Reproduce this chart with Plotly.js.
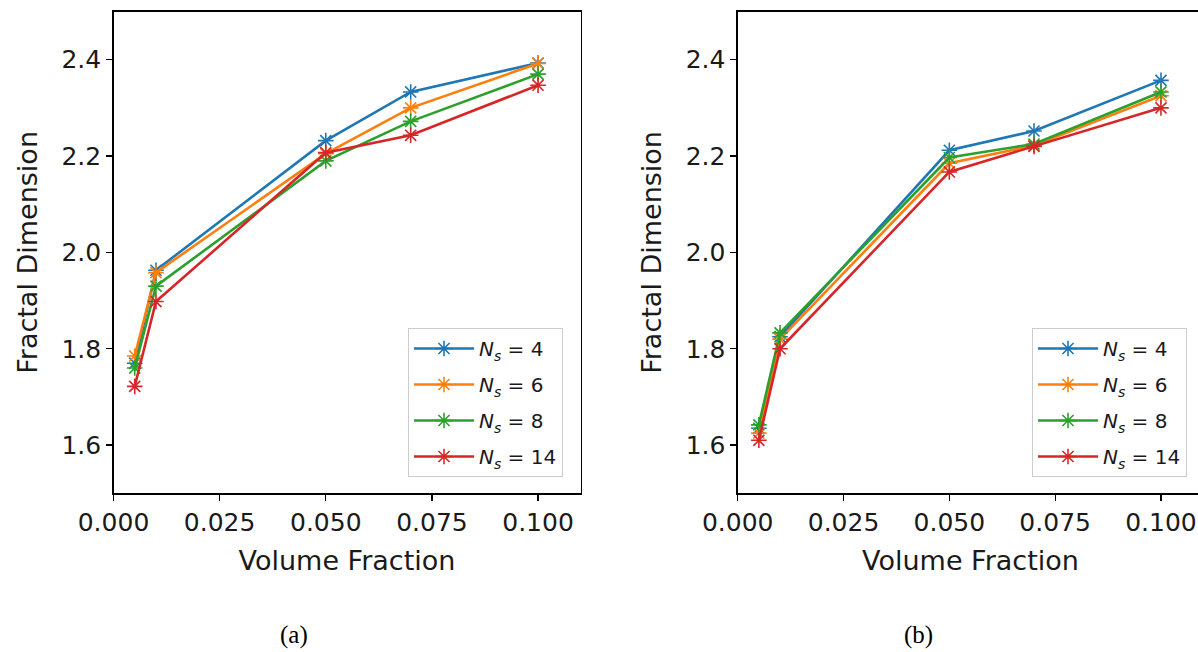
<!DOCTYPE html>
<html>
<head>
<meta charset="utf-8">
<script src="https://cdn.plot.ly/plotly-3.0.1.min.js"></script>
<style>
  html, body { margin: 0; padding: 0; background: #fff; overflow: hidden; }
  #fig { width: 1204px; height: 652px; }
</style>
</head>
<body>
<div id="fig"></div>
<script>
// Volume fractions sampled
const volumeFraction = [0.005, 0.01, 0.05, 0.07, 0.1];

// Number of sampling points per series
const nsLabels = ["4", "6", "8", "14"];

// Fractal dimension, panel (a)
const fdA_ns4  = [1.770, 1.963, 2.232, 2.333, 2.393];
const fdA_ns6  = [1.785, 1.958, 2.205, 2.300, 2.392];
const fdA_ns8  = [1.760, 1.930, 2.190, 2.272, 2.370];
const fdA_ns14 = [1.722, 1.898, 2.207, 2.243, 2.347];

// Fractal dimension, panel (b)
const fdB_ns4  = [1.635, 1.825, 2.212, 2.252, 2.357];
const fdB_ns6  = [1.625, 1.820, 2.185, 2.222, 2.325];
const fdB_ns8  = [1.642, 1.833, 2.197, 2.225, 2.333];
const fdB_ns14 = [1.610, 1.800, 2.167, 2.220, 2.300];

const xTicks = [0, 0.025, 0.05, 0.075, 0.1];
const xTickText = ["0.000", "0.025", "0.050", "0.075", "0.100"];
const yTicks = [1.6, 1.8, 2.0, 2.2, 2.4];
const yTickText = ["1.6", "1.8", "2.0", "2.2", "2.4"];

const colors = ["#1f77b4", "#ff7f0e", "#2ca02c", "#d62728"];
const panelA = [fdA_ns4, fdA_ns6, fdA_ns8, fdA_ns14];
const panelB = [fdB_ns4, fdB_ns6, fdB_ns8, fdB_ns14];

const W = 1204, H = 652;
const FONT = "DejaVu Sans";
const TXT = "#1a1a1a";

function makeTraces(series, xa, ya, legendName, tag) {
  return series.map((ys, i) => ({
    type: "scatter",
    mode: "lines+markers",
    x: volumeFraction,
    y: ys,
    xaxis: xa,
    yaxis: ya,
    legend: legendName,
    legendgroup: tag + i,
    name: "<i>N</i><sub><i>s</i></sub> = " + nsLabels[i],
    line: { color: colors[i], width: 2.6 },
    marker: {
      symbol: "asterisk-open",
      size: 13,
      color: colors[i],
      line: { color: colors[i], width: 1.6 }
    },
    hoverinfo: "skip"
  }));
}

const traces = [
  ...makeTraces(panelA, "x", "y", "legend", "a"),
  ...makeTraces(panelB, "x2", "y2", "legend2", "b")
];

function xAxis(domain, range, anchor) {
  return {
    domain: domain,
    range: range,
    anchor: anchor,
    tickvals: xTicks,
    ticktext: xTickText,
    ticks: "outside",
    ticklen: 6,
    tickwidth: 1.3,
    tickcolor: "#000",
    showline: true,
    mirror: true,
    linecolor: "#000",
    linewidth: 1.3,
    showgrid: false,
    zeroline: false,
    tickfont: { family: FONT, size: 25, color: TXT },
    title: { text: "Volume Fraction", standoff: 15, font: { family: FONT, size: 27, color: TXT } }
  };
}

function yAxis(anchor) {
  return {
    domain: [1 - 493.3 / H, 1 - 11.5 / H],
    range: [1.5, 2.5],
    anchor: anchor,
    tickvals: yTicks,
    ticktext: yTickText,
    ticks: "outside",
    ticklen: 6,
    tickwidth: 1.3,
    tickcolor: "#000",
    showline: true,
    mirror: true,
    linecolor: "#000",
    linewidth: 1.3,
    showgrid: false,
    zeroline: false,
    tickfont: { family: FONT, size: 25, color: TXT },
    title: { text: "Fractal Dimension", standoff: 16, font: { family: FONT, size: 27, color: TXT } }
  };
}

function legendBox(xPix) {
  return {
    x: xPix / W,
    y: 1 - 328 / H,
    xanchor: "left",
    yanchor: "top",
    bgcolor: "rgba(255,255,255,0.8)",
    bordercolor: "#cccccc",
    borderwidth: 1,
    traceorder: "grouped",
    tracegroupgap: 7,
    itemwidth: 60,
    font: { family: FONT, size: 20, color: TXT }
  };
}

const layout = {
  width: W,
  height: H,
  margin: { l: 0, r: 0, t: 0, b: 0 },
  paper_bgcolor: "#fff",
  plot_bgcolor: "#fff",
  showlegend: true,
  xaxis: xAxis([113.5 / W, 580.5 / W], [0, 0.11], "y"),
  yaxis: yAxis("x"),
  xaxis2: xAxis([737.7 / W, 1203.3 / W], [0, 0.11], "y2"),
  yaxis2: yAxis("x2"),
  legend: legendBox(408),
  legend2: legendBox(1032),
  annotations: [
    { text: "(a)", x: 294 / W, y: 1 - 635 / H, xref: "paper", yref: "paper",
      xanchor: "center", yanchor: "middle", showarrow: false,
      font: { family: "Liberation Serif", size: 25, color: "#000" } },
    { text: "(b)", x: 918 / W, y: 1 - 635 / H, xref: "paper", yref: "paper",
      xanchor: "center", yanchor: "middle", showarrow: false,
      font: { family: "Liberation Serif", size: 25, color: "#000" } }
  ]
};

Plotly.newPlot("fig", traces, layout, { staticPlot: true, displayModeBar: false });
</script>
</body>
</html>
